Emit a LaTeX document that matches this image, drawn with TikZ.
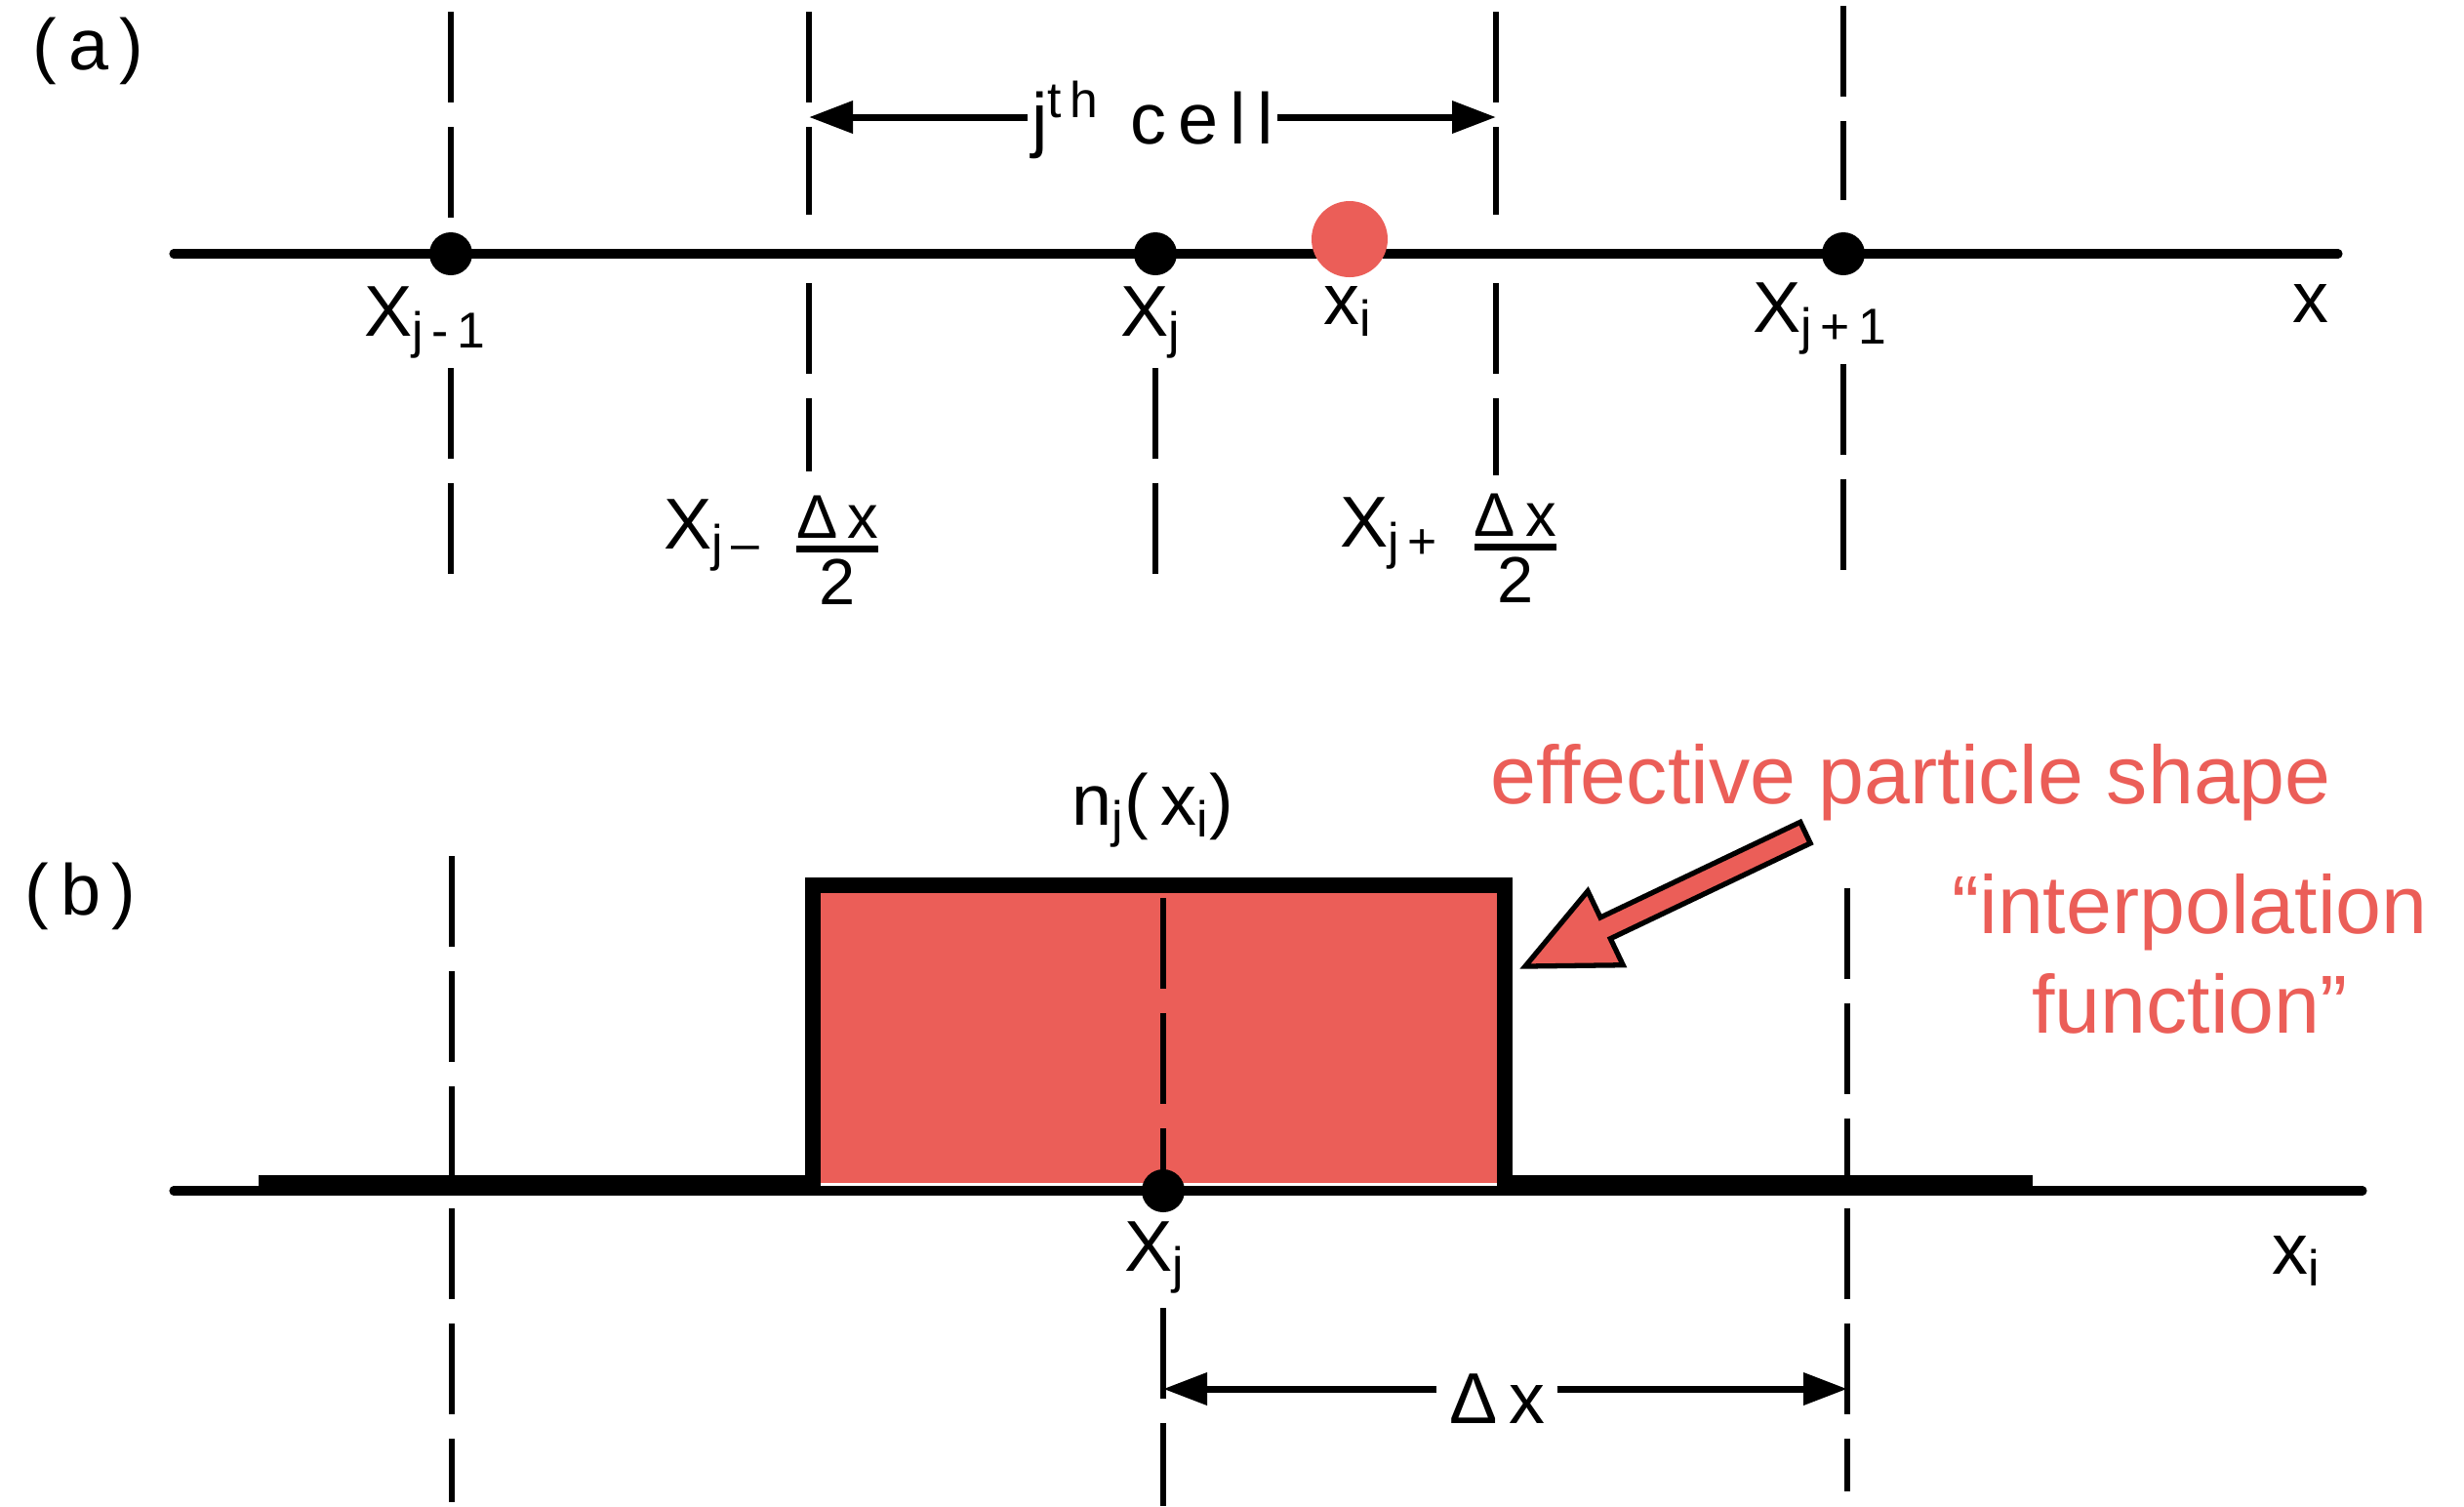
\documentclass[tikz,border=0pt]{standalone}
\usepackage{amsmath}
\usepackage{fontspec}
\setmainfont{Liberation Sans}
\usepackage{tikz}
\usetikzlibrary{arrows.meta}
\definecolor{ptcred}{HTML}{EB5E58}
\newcommand{\halfdx}{\hspace{0.32cm}\raisebox{-0.185cm}{$\genfrac{}{}{2pt}{1}{\text{\fontsize{18}{18}\selectfont Δx}}{\text{\fontsize{19}{19}\selectfont 2}}$}}
\tikzset{
    axisline/.style={
        line width=2.6pt,
        line cap=round
    },
    gridline/.style={
        line width=1.5pt,
        dash pattern=on 0.93cm off 0.25cm
    },
    shapeline/.style={
        line width=4.5pt
    },
    dimarrow/.style={
        -{Triangle[length=4.5mm, width=3.2mm]},
        line width=2pt
    },
    meshpt/.style={
        circle,
        fill=black,
        inner sep=0pt,
        minimum size=4.4mm
    },
    partpt/.style={
        circle,
        fill=ptcred,
        inner sep=0pt,
        minimum size=7.8mm
    },
    lbl/.style={
        inner sep=0pt,
        font=\fontsize{21}{25}\selectfont\addfontfeature{LetterSpace=16}
    },
    note/.style={
        inner sep=0pt,
        text=ptcred,
        font=\fontsize{24}{29}\selectfont
    },
    callout/.style={
        fill=ptcred,
        draw=black,
        line width=1.5pt,
        line join=miter
    }
}
\begin{document}
\begin{tikzpicture}
    \useasboundingbox (0,0) rectangle (25.25,-15.43);

    % (a) grid points and the j-th cell
    \node[lbl, anchor=base west] (lbla) at (0.33,-0.71) {(a)};

    \draw[gridline] (4.62,-0.12) -- (4.62,-2.24);
    \draw[gridline] (4.62,-3.77) -- (4.62,-6.07);
    \draw[gridline] (8.29,-0.12) -- (8.29,-2.20);
    \draw[gridline] (8.29,-2.90) -- (8.29,-4.83);
    \draw[gridline] (11.84,-3.77) -- (11.84,-6.03);
    \draw[gridline] (15.33,-0.12) -- (15.33,-2.20);
    \draw[gridline] (15.33,-2.90) -- (15.33,-4.87);
    \draw[gridline] (18.89,-0.06) -- (18.89,-2.05);
    \draw[gridline] (18.89,-3.73) -- (18.89,-5.93);

    \draw[axisline] (1.78,-2.60) -- (23.96,-2.60);
    \node[meshpt] (xjm) at (4.62,-2.60) {};
    \node[meshpt] (xj) at (11.84,-2.60) {};
    \node[meshpt] (xjp) at (18.89,-2.60) {};
    \node[partpt] (xi) at (13.83,-2.45) {};

    \node[lbl, anchor=base west] (lbljm) at (3.73,-3.44) {X$_{\text{j-1}}$};
    \node[lbl, anchor=base west] (lblj) at (11.48,-3.44) {X$_{\text{j}}$};
    \node[lbl, anchor=base west] (lbli) at (13.56,-3.32) {x$_{\text{i}}$};
    \node[lbl, anchor=base west] (lbljp) at (17.96,-3.40) {X$_{\text{j+1}}$};
    \node[lbl, anchor=base west] (lblx) at (23.49,-3.30) {x};
    \node[lbl, anchor=base west] (lblleft) at (6.80,-5.62) {X$_{\text{j–}}$\halfdx};
    \node[lbl, anchor=base west] (lblright) at (13.73,-5.60) {X$_{\text{j+}}$\halfdx};

    \coordinate (cl) at (8.29,-1.20);
    \coordinate (cr) at (15.33,-1.20);
    \node[lbl, anchor=base, inner sep=1pt] (cell) at (11.81,-1.47) {j\textsuperscript{th} cell};
    \draw[dimarrow] (cell.west |- cl) -- (cl);
    \draw[dimarrow] (cell.east |- cr) -- (cr);

    % (b) effective particle shape
    \node[lbl, anchor=base west] (lblb) at (0.25,-9.37) {(b)};

    \fill[ptcred] (8.33,-9.07) rectangle (15.42,-12.12);
    \draw[gridline] (4.63,-8.77) -- (4.63,-12.05);
    \draw[gridline] (4.63,-12.38) -- (4.63,-15.39);
    \draw[gridline] (11.92,-9.20) -- (11.92,-12.00);
    \draw[gridline] (11.92,-13.40) -- (11.92,-15.43);
    \draw[gridline] (18.93,-9.10) -- (18.93,-12.05);
    \draw[gridline] (18.93,-12.38) -- (18.93,-15.28);

    \draw[axisline] (1.78,-12.20) -- (24.21,-12.20);
    \draw[shapeline] (2.65,-12.12) -- (8.33,-12.12) -- (8.33,-9.07)
        -- (15.42,-9.07) -- (15.42,-12.12) -- (20.83,-12.12);
    \node[meshpt] (xjb) at (11.92,-12.20) {};

    \node[lbl, anchor=base west] (lbln) at (10.98,-8.45) {n$_{\text{j}}$(x$_{\text{i}}$)};
    \node[lbl, anchor=base west] (lbljb) at (11.52,-13.02) {X$_{\text{j}}$};
    \node[lbl, anchor=base west] (lblxi) at (23.28,-13.05) {x$_{\text{i}}$};

    \coordinate (dl) at (11.92,-14.23);
    \coordinate (dr) at (18.93,-14.23);
    \node[lbl, anchor=base, inner sep=1.2mm] (dx) at (15.34,-14.58) {Δx};
    \draw[dimarrow] (dx.west |- dl) -- (dl);
    \draw[dimarrow] (dx.east |- dr) -- (dr);

    \node[note, anchor=base west] (effnote) at (15.27,-8.23) {effective particle shape};
    \node[note, anchor=north, align=center] (interpnote) at (22.44,-8.95) {“interpolation\\function”};

    \begin{scope}[shift={(15.63,-9.90)}, rotate=25.5]
        \draw[callout] (0,0) -- (0.91,0.42) -- (0.91,0.12) -- (3.18,0.12)
            -- (3.18,-0.12) -- (0.91,-0.12) -- (0.91,-0.42) -- cycle;
    \end{scope}
\end{tikzpicture}
\end{document}
